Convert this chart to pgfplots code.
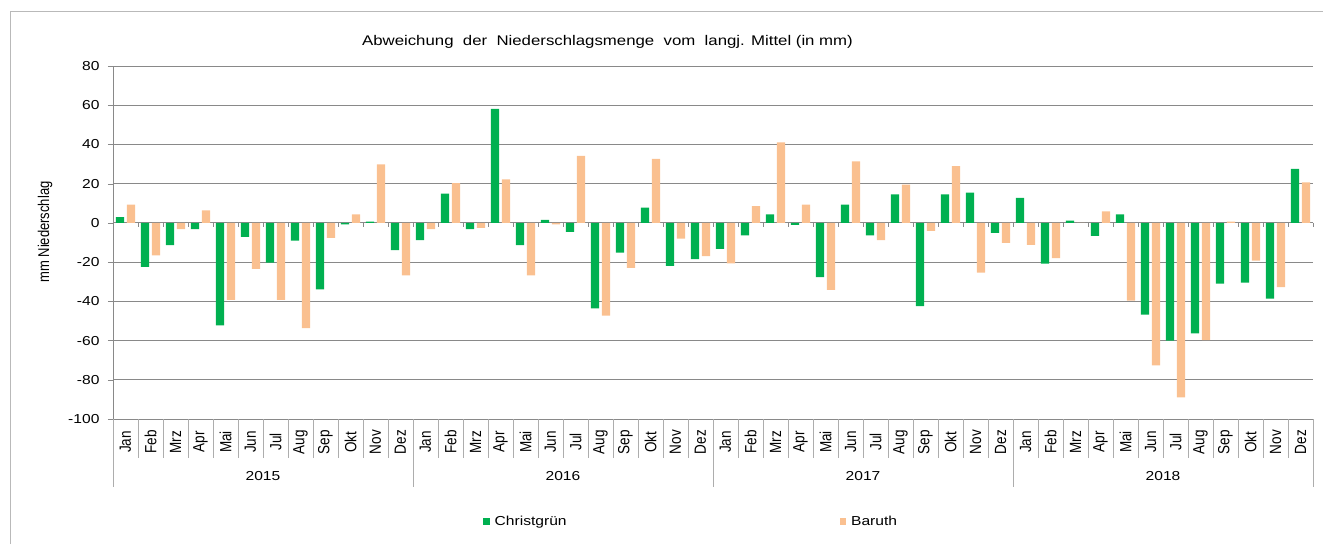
\documentclass[border=0pt]{standalone}
\usepackage{pgfplots}
\usepackage{pgfplotstable}
\pgfplotsset{compat=1.18}
\usepackage{fontspec}
\setmainfont{Liberation Sans}
\newfontfamily\wide{Liberation Sans}[FakeStretch=1.2]
\definecolor{cgreen}{HTML}{00B050}
\definecolor{cpeach}{HTML}{FAC090}
\definecolor{gridgray}{RGB}{137,137,137}
\definecolor{framegray}{RGB}{185,185,185}

\pgfplotstableread{
x C B
0.5 3.0 9.3
1.5 -22.4 -16.6
2.5 -11.4 -3.2
3.5 -3.2 6.4
4.5 -52.2 -39.2
5.5 -7.1 -23.4
6.5 -20.3 -39.2
7.5 -9.0 -53.6
8.5 -33.9 -7.6
9.5 -0.7 4.4
10.5 0.7 29.8
11.5 -13.9 -26.8
12.5 -8.8 -3.2
13.5 14.9 20.3
14.5 -3.2 -2.5
15.5 58.1 22.2
16.5 -11.4 -26.8
17.5 1.5 -0.8
18.5 -4.6 34.2
19.5 -43.6 -47.3
20.5 -15.1 -22.9
21.5 7.8 32.7
22.5 -21.9 -8.0
23.5 -18.5 -16.9
24.5 -13.2 -20.7
25.5 -6.4 8.5
26.5 4.4 41.0
27.5 -1.0 9.3
28.5 -27.6 -34.2
29.5 9.3 31.4
30.5 -6.4 -8.8
31.5 14.6 19.5
32.5 -42.5 -4.1
33.5 14.6 29.0
34.5 15.4 -25.3
35.5 -5.1 -10.2
36.5 12.7 -11.2
37.5 -20.8 -18.0
38.5 1.2 0
39.5 -6.6 5.9
40.5 4.4 -39.7
41.5 -46.8 -72.7
42.5 -60.0 -89.0
43.5 -56.4 -59.8
44.5 -31.0 0.7
45.5 -30.5 -19.3
46.5 -38.6 -32.7
47.5 27.6 20.7
}\datatab

\begin{document}
\begin{tikzpicture}
\begin{axis}[
  at={(0pt,0pt)}, anchor=south west,
  scale only axis, width=1200pt, height=353pt,
  xmin=0, xmax=48, ymin=-100, ymax=80,
  clip=false,
  ybar=2.7pt, bar width=8.3pt,
  axis lines*=left,
  axis line style={gridgray},
  ytick={-100,-80,...,80},
  ymajorgrids, grid style={gridgray, line width=0.8pt},
  tick align=outside, ytick pos=left,
  major tick length=5pt,
  ytick style={gridgray},
  yticklabel style={font=\wide\fontsize{13}{13}\selectfont, anchor=east, xshift=-5pt},
  /pgf/number format/assume math mode=true,
  xtick={0.5,1.5,...,47.5},
  xtick style={draw=none},
  xticklabels={Jan,Feb,Mrz,Apr,Mai,Jun,Jul,Aug,Sep,Okt,Nov,Dez,Jan,Feb,Mrz,Apr,Mai,Jun,Jul,Aug,Sep,Okt,Nov,Dez,Jan,Feb,Mrz,Apr,Mai,Jun,Jul,Aug,Sep,Okt,Nov,Dez,Jan,Feb,Mrz,Apr,Mai,Jun,Jul,Aug,Sep,Okt,Nov,Dez},
  xticklabel style={yshift=-18pt, xscale=1.2, rotate=90, anchor=center, font=\fontsize{13.5}{13.5}\selectfont},
  legend columns=2,
  legend style={at={(axis description cs:0.3083,-0.291)}, anchor=west, draw=none, fill=none, inner sep=0pt,
    font=\wide\fontsize{13}{15}\selectfont,
    /tikz/every odd column/.append style={column sep=3pt},
    /tikz/every even column/.append style={column sep=271pt}},
  legend image code/.code={\draw[#1,draw=none] (0pt,-3.25pt) rectangle (6.5pt,3.25pt);},
]
\addplot[fill=cgreen, draw=none] table[x=x, y=C] {\datatab};
\addplot[fill=cpeach, draw=none] table[x=x, y=B] {\datatab};
\legend{Christgrün,Baruth}
\pgfplotsinvokeforeach{0,...,48}{
  \draw[gridgray, line width=0.8pt] (axis cs:#1,0) -- ++(0pt,-4pt);
  \draw[framegray!80!gray, line width=0.8pt] (axis cs:#1,-100) -- ++(0pt,-39pt);
}
\pgfplotsinvokeforeach{0,12,24,36,48}{
  \draw[framegray!80!gray, line width=0.8pt] (axis cs:#1,-100) -- ++(0pt,-68pt);
}
\node[font=\wide\fontsize{13}{13}\selectfont] at (axis cs:6,-100) [yshift=-57pt] {2015};
\node[font=\wide\fontsize{13}{13}\selectfont] at (axis cs:18,-100) [yshift=-57pt] {2016};
\node[font=\wide\fontsize{13}{13}\selectfont] at (axis cs:30,-100) [yshift=-57pt] {2017};
\node[font=\wide\fontsize{13}{13}\selectfont] at (axis cs:42,-100) [yshift=-57pt] {2018};
\end{axis}
\node[font=\wide\fontsize{14}{16}\selectfont] at (494.5pt,377.3pt) {Abweichung\ \ der\ \ Niederschlagsmenge\ \ vom\ \ langj. Mittel (in mm)};
\node[xscale=1.2, rotate=90, font=\fontsize{13}{13}\selectfont] at (-68pt,187pt) {mm Niederschlag};
\draw[framegray, line width=0.8pt] (-102.3pt,-125pt) -- (-102.3pt,408pt) -- (1210pt,408pt);
\pgfresetboundingbox
\useasboundingbox (-113pt,-125pt) rectangle (1210pt,419pt);
\end{tikzpicture}
\end{document}
